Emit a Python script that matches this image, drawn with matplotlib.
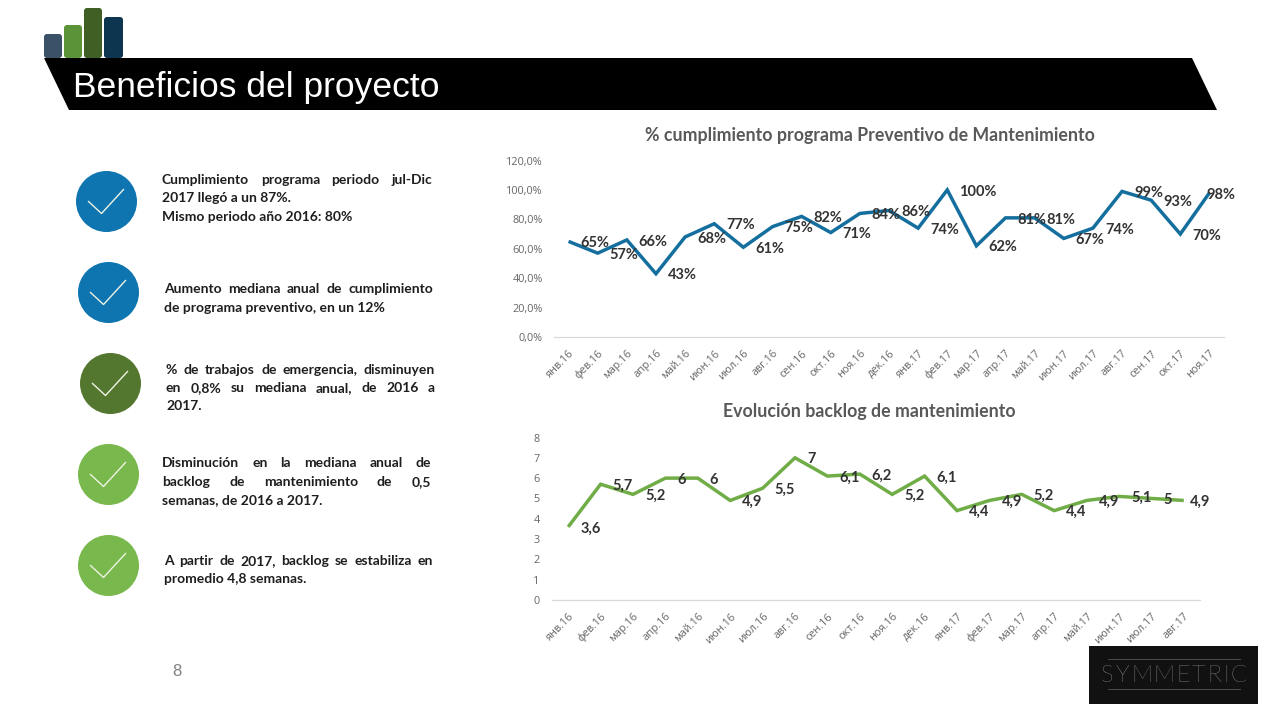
import matplotlib
matplotlib.use('Agg')
import matplotlib.pyplot as plt
from matplotlib.patches import Circle, FancyBboxPatch, Polygon, Rectangle

W, H = 1280, 720

# data
meses_prev = ['янв.16', 'фев.16', 'мар.16', 'апр.16', 'май.16', 'июн.16', 'июл.16', 'авг.16',
              'сен.16', 'окт.16', 'ноя.16', 'дек.16', 'янв.17', 'фев.17', 'мар.17', 'апр.17',
              'май.17', 'июн.17', 'июл.17', 'авг.17', 'сен.17', 'окт.17', 'ноя.17']
cumplimiento = [65, 57, 66, 43, 68, 77, 61, 75, 82, 71, 84, 86, 74, 100, 62, 81, 81, 67, 74, 99, 93, 70, 98]
yticks_prev = [0, 20, 40, 60, 80, 100, 120]

meses_back = meses_prev[:20]
backlog = [3.6, 5.7, 5.2, 6, 6, 4.9, 5.5, 7, 6.1, 6.2, 5.2, 6.1, 4.4, 4.9, 5.2, 4.4, 4.9, 5.1, 5, 4.9]
yticks_back = [0, 1, 2, 3, 4, 5, 6, 7, 8]

titulo = 'Beneficios del proyecto'
titulo_prev = '% cumplimiento programa Preventivo de Mantenimiento'
titulo_back = 'Evolución backlog de mantenimiento'

# (center x, center y, colour)
circulos = [(106.5, 201.5, '#0e75b0'), (108.5, 292.5, '#0e75b0'), (110.5, 383.5, '#54772f'),
            (108.5, 474.5, '#78b84c'), (108.5, 565.5, '#78b84c')]

# (x left, x right, lines), every line but the one marked False is justified
bloques = [
    (162, 432, [('Cumplimiento programa periodo jul-Dic', 180, True),
                ('2017 llegó a un 87%.', 198, False),
                ('Mismo periodo año 2016: 80%', 217, False)]),
    (164, 433, [('Aumento mediana anual de cumplimiento', 289, True),
                ('de programa preventivo, en un 12%', 308, False)]),
    (166, 435, [('% de trabajos de emergencia, disminuyen', 370, True),
                ('en 0,8% su mediana anual, de 2016 a', 388, True),
                ('2017.', 406, False)]),
    (162, 431, [('Disminución en la mediana anual de', 463, True),
                ('backlog de mantenimiento de 0,5', 482, True),
                ('semanas, de 2016 a 2017.', 500, False)]),
    (164, 433, [('A partir de 2017, backlog se estabiliza en', 561, True),
                ('promedio 4,8 semanas.', 579, False)]),
]

fig = plt.figure(figsize=(W / 100, H / 100), dpi=100, facecolor='white')
page = fig.add_axes([0, 0, 1, 1])
page.set_xlim(0, W)
page.set_ylim(H, 0)
page.axis('off')

# little bars over the banner
for x0, x1, top, color in [(44, 62, 34, '#3b5168'), (64, 82, 25, '#5b9338'),
                           (84, 102, 8, '#3f5f25'), (104, 123, 17, '#0d3550')]:
    page.add_patch(FancyBboxPatch((x0 + 2, top + 2), x1 - x0 - 4, 54 - top,
                                  boxstyle='round,pad=2,rounding_size=3',
                                  fc=color, ec='none', zorder=1))

page.add_patch(Polygon([(44, 58), (1192, 58), (1217, 110), (69, 110)], fc='black', ec='none', zorder=2))
page.text(73, 87.5, titulo, color='white', fontsize=25.5, family='Liberation Sans', va='center', zorder=3)

for cx, cy, color in circulos:
    page.add_patch(Circle((cx, cy), 30.5, fc=color, ec='none'))
    page.plot([cx - 18, cx - 5, cx + 17], [cy, cy + 12, cy - 12], color='#eef3e4', lw=1.0, zorder=3)

rend = fig.canvas.get_renderer()


def repartir(x0, x1, y, partes, **kw):
    # spreads the pieces evenly between x0 and x1
    items = [page.text(x0, y, p, va='center', **kw) for p in partes]
    anchos = [t.get_window_extent(rend).width for t in items]
    hueco = (x1 - x0 - sum(anchos)) / (len(items) - 1)
    x = x0
    for t, a in zip(items, anchos):
        t.set_x(x)
        x += a + hueco


estilo = dict(fontsize=10, fontweight='bold', family='Lato', color='#1e1e1e')
for x0, x1, lineas in bloques:
    for texto, y, just in lineas:
        if just:
            repartir(x0, x1, y, texto.split(' '), **estilo)
        else:
            page.text(x0, y, texto, va='center', **estilo)

page.text(177, 671, '8', fontsize=12, family='Liberation Sans', color='#7f7f7f', ha='center', va='center')

# logo
page.add_patch(Rectangle((1089, 646), 169, 58, fc='#111111', ec='none'))
page.plot([1108, 1240], [659, 659], color='#555555', lw=0.6)
page.plot([1108, 1240], [689, 689], color='#555555', lw=0.6)
repartir(1101, 1247, 675, list('SYMMETRIC'), fontsize=17, family='Lato', fontweight='light', color='#cccccc')


def grafico(left, right, top, bottom, meses, valores, ymax, color, titulo_g, tx, ty, yfmt, vfmt, yticks, pad, ult_dx):
    ax = fig.add_axes([left / W, 1 - bottom / H, (right - left) / W, (bottom - top) / H])
    ax.patch.set_alpha(0)
    x = list(range(len(meses)))
    ax.plot(x, valores, color=color, lw=2.5, solid_joinstyle='miter', solid_capstyle='butt')
    ax.set_xlim(-0.5, len(meses) - 0.5)
    ax.set_ylim(0, ymax)
    ax.set_yticks(yticks)
    ax.set_yticklabels([yfmt(v) for v in yticks], fontsize=7.8, family='Open Sans', color='#666666')
    ax.set_xticks(x)
    ax.set_xticklabels(meses, fontsize=7.8, family='Open Sans', color='#666666', rotation=45,
                       ha='right', rotation_mode='anchor')
    ax.tick_params(axis='y', length=0, pad=pad)
    ax.tick_params(axis='x', length=0, pad=8)
    for s in ['top', 'right', 'left']:
        ax.spines[s].set_visible(False)
    ax.spines['bottom'].set_color('#d9d9d9')
    ax.spines['bottom'].set_linewidth(0.9)
    for i, v in enumerate(valores):
        dx = ult_dx if i == len(valores) - 1 else 12
        ax.annotate(vfmt(v), (i, v), xytext=(dx * 0.72, -1.2), textcoords='offset points',
                    fontsize=10.5, fontweight='bold', family='Lato', color='#333333',
                    ha='left', va='center', annotation_clip=False)
    page.text(tx, ty, titulo_g, fontsize=12.8, fontweight='bold', family='Lato',
              color='#595959', ha='center', va='center')
    return ax


grafico(554, 1224, 160.5, 337, meses_prev, cumplimiento, 120, '#156f9e', titulo_prev, 870, 135,
        lambda v: f'{v:.1f}%'.replace('.', ','), lambda v: f'{v}%', yticks_prev, 8, -3)
grafico(552, 1200, 437.5, 600, meses_back, backlog, 8, '#70ad47', titulo_back, 869.5, 411,
        lambda v: str(v), lambda v: str(v).replace('.', ','), yticks_back, 9, 6)

fig.savefig('out.png', dpi=100)
